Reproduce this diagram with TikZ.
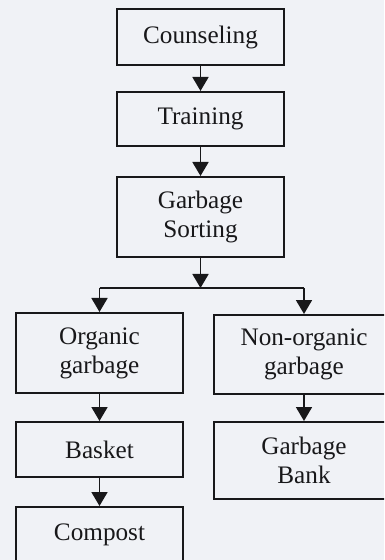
\documentclass[tikz,border=0pt]{standalone}
\usepackage{fontspec}
\setmainfont{Liberation Serif}
\usetikzlibrary{arrows.meta}
\definecolor{paper}{RGB}{240,242,246}
\definecolor{ink}{RGB}{24,24,26}
\begin{document}
\begin{tikzpicture}[x=0.5pt,y=-0.5pt,
	box/.style={draw=ink,line width=1pt,text=ink,align=center,inner sep=0pt,
		font=\fontsize{12.6}{14.5}\selectfont,minimum width=83.5pt},
	flow/.style={draw=ink,line width=0.9pt,-{Triangle[width=8pt,length=7pt]}},
	link/.style={draw=ink,line width=0.9pt}]
	\clip (0,0) rectangle (384,560);
	\fill[paper] (0,0) rectangle (384,560);
	%MAIN COLUMN
	\node[box,minimum height=28pt] (counsel) at (200.5,37) {Counseling};
	\node[box,minimum height=27pt] (train) at (200.5,119) {Training};
	\node[box,minimum height=40pt] (sort) at (200.5,217) {Garbage\\Sorting};
	%BRANCHES
	\node[box,minimum height=40pt] (organic) at (99.5,353) {Organic\\garbage};
	\node[box,minimum height=39.5pt,minimum width=90pt] (nonorganic) at (304,354.5) {Non-organic\\garbage};
	\node[box,minimum height=27.5pt] (basket) at (99.5,449.5) {Basket};
	\node[box,minimum height=38.5pt,minimum width=90pt] (bank) at (304,460.5) {Garbage\\Bank};
	\node[box,minimum height=28pt] (compost) at (99.5,535) {Compost};
	\coordinate (split) at (200.5,288);
	\coordinate (splitL) at (99.5,288);
	\coordinate (splitR) at (304,288);
	
	\draw[flow] (counsel) -- (train);
	\draw[flow] (train) -- (sort);
	\draw[flow] (sort) -- (split);
	\draw[link] (splitL) -- (splitR);
	\draw[flow] (splitL) -- (organic);
	\draw[flow] (splitR) -- (nonorganic);
	\draw[flow] (organic) -- (basket);
	\draw[flow] (basket) -- (compost);
	\draw[flow] (nonorganic) -- (bank);
\end{tikzpicture}
\end{document}
